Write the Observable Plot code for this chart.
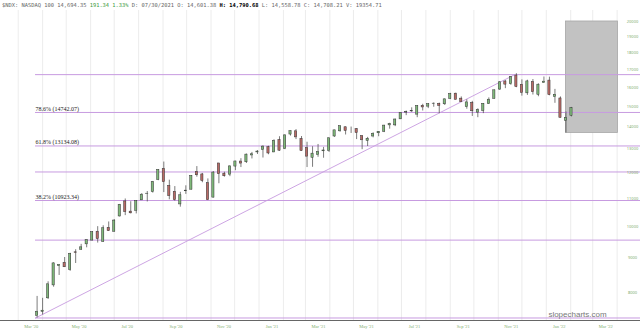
<!DOCTYPE html>
<html><head><meta charset="utf-8">
<script src="https://cdn.jsdelivr.net/npm/d3@7"></script>
<script src="https://cdn.jsdelivr.net/npm/@observablehq/plot@0.6"></script>
<style>
body{margin:0;background:#fff;width:640px;height:334px;overflow:hidden}
#hdr{height:10px;font:5.4px/10px "DejaVu Sans Mono",monospace;color:#666;padding-left:2px;white-space:pre;overflow:hidden}
#hdr .g{color:#3a9a3a}
#hdr .b{color:#000;font-weight:bold}
#chart svg{display:block}
</style></head><body>
<div id="hdr">$NDX: NASDAQ 100 14,694.35 <span class="g">191.34 1.33%</span> D: 07/30/2021 O: 14,601.38 <span class="b">H: 14,790.68</span> L: 14,558.78 C: 14,708.21 V: 19354.71</div>
<div id="chart"></div>
<script>
// Weekly candles (week start dates)
const weekStart = [
"2020-03-23","2020-03-30","2020-04-06","2020-04-13","2020-04-20","2020-04-27","2020-05-04","2020-05-11","2020-05-18","2020-05-25",
"2020-06-01","2020-06-08","2020-06-15","2020-06-22","2020-06-29","2020-07-06","2020-07-13","2020-07-20","2020-07-27","2020-08-03",
"2020-08-10","2020-08-17","2020-08-24","2020-08-31","2020-09-07","2020-09-14","2020-09-21","2020-09-28","2020-10-05","2020-10-12",
"2020-10-19","2020-10-26","2020-11-02","2020-11-09","2020-11-16","2020-11-23","2020-11-30","2020-12-07","2020-12-14","2020-12-21",
"2020-12-28",
"2021-01-04","2021-01-11","2021-01-18","2021-01-25","2021-02-01","2021-02-08","2021-02-15","2021-02-22","2021-03-01","2021-03-08",
"2021-03-15","2021-03-22","2021-03-29","2021-04-05","2021-04-12","2021-04-19","2021-04-26","2021-05-03","2021-05-10","2021-05-17",
"2021-05-24","2021-05-31","2021-06-07","2021-06-14","2021-06-21","2021-06-28","2021-07-05","2021-07-12","2021-07-19","2021-07-26",
"2021-08-02","2021-08-09","2021-08-16","2021-08-23","2021-08-30","2021-09-06","2021-09-13","2021-09-20","2021-09-27","2021-10-04",
"2021-10-11","2021-10-18","2021-10-25","2021-11-01","2021-11-08","2021-11-15","2021-11-22","2021-11-29","2021-12-06","2021-12-13",
"2021-12-20","2021-12-27",
"2022-01-03","2022-01-10","2022-01-17","2022-01-24","2022-01-31"];
const open = [
7400,7500,7850,8200,8750,8850,8640,9170,9250,9420,
9540,9830,9500,9960,9830,10350,10890,10520,10550,10930,
11170,11240,11710,12150,11480,11250,10780,11270,11330,12030,
11930,11580,11030,12380,11960,11920,12250,12460,12430,12720,
12850,
12960,13080,12850,13400,13000,13650,13800,13450,13040,12620,
12740,12900,12920,13560,13800,13990,13860,13900,13580,13360,
13560,13710,13780,14080,14080,14370,14700,14760,14600,15040,
15000,15140,15140,15120,15400,15670,15410,14970,15190,14700,
14780,15130,15400,15890,16330,16180,16660,16150,15690,16300,
15610,16250,
16380,15500,15420,14300,14540];
const high = [
7900,7850,8300,8850,8800,9010,9140,9250,9420,9560,
9830,10000,10030,10160,10240,10780,10980,10880,10920,11180,
11260,11650,12120,12439,11700,11450,11230,11480,11880,12250,
11970,11750,12040,12380,12020,12280,12470,12580,12780,12850,
12930,
13140,13120,13410,13550,13640,13810,13880,13560,13300,13100,
13200,13070,13490,13850,14050,14000,14000,13930,13600,13520,
13730,13790,14080,14180,14380,14680,14780,14940,15040,15120,
15140,15190,15180,15390,15690,15700,15500,15350,15270,14890,
15150,15450,15870,16330,16380,16600,16765,16420,16400,16440,
16200,16580,
16570,15900,15500,14730,14960];
const low = [
7345,7420,7820,8150,8480,8710,8600,8830,9230,9310,
9530,9460,9480,9840,9820,10330,10380,10440,10440,10930,
10870,11200,11680,11220,10950,10900,10680,11150,11320,11820,
11600,10920,11020,11560,11820,11840,12080,12210,12380,12570,
12760,
12610,12750,12840,12900,12970,13580,13420,12900,12210,12220,
12640,12600,12850,13520,13760,13630,13700,13420,12970,13110,
13500,13550,13740,13900,14020,14360,14550,14710,14450,14780,
14900,14970,14650,15060,15360,15340,15210,14870,14510,14450,
14650,15110,15390,15840,15940,16120,15990,15540,15580,15600,
15510,16250,
15560,15170,14440,13725,14490];
const close = [
7502,7528,8230,8833,8784,8718,9121,9152,9325,9555,
9814,9588,9946,9849,10208,10767,10504,10461,10905,11140,
11178,11625,12111,11622,11087,10938,11118,11294,11868,11896,
11665,10938,12006,11937,11856,12258,12464,12375,12756,12771,
12888,
13105,12804,13366,12925,13612,13807,13520,12909,12669,12797,
12867,12935,13480,13845,14041,13817,13860,13720,13388,13456,
13687,13773,14069,14143,14362,14679,14733,14785,15034,14959,
15127,15152,15034,15374,15652,15350,15224,15216,14767,14830,
15146,15355,15850,16285,16157,16573,16026,15712,16335,15750,
16155,16320,
15593,15611,14438,14440,14930];

// Fibonacci retracement
const fibLow = 7344.9, fibHigh = 16712.4;
const fibPct = [0, 23.6, 38.2, 50, 61.8, 78.6, 100];
const fibLabelPct = [38.2, 61.8, 78.6];
const fibLabelText = ["38.2% (10923.34)", "61.8% (13134.08)", "78.6% (14742.07)"];
const trendDates = ["2020-03-23", "2021-11-22"];

// projection box
const boxDates = ["2022-01-26", "2022-04-02"];
const boxValues = [13725, 20000];

// axes
const yTicks = [8000,9000,10000,11000,12000,13000,14000,15000,16000,17000,18000,19000,20000];
const xTickDates = ["2020-03-01","2020-05-01","2020-07-01","2020-09-01","2020-11-01","2021-01-01","2021-03-01",
  "2021-05-01","2021-07-01","2021-09-01","2021-11-01","2022-01-01","2022-03-01"];
const xTickLabels = ["Mar '20","May '20","Jul '20","Sep '20","Nov '20","Jan '21","Mar '21",
  "May '21","Jul '21","Sep '21","Nov '21","Jan '22","Mar '22"];

const DAY = 864e5;
const bars = weekStart.map((w, i) => {
  const s = new Date(w + "T00:00:00Z");
  return {s: new Date(+s + 0.6*DAY), e: new Date(+s + 3.4*DAY), m: new Date(+s + 2*DAY), o: open[i], h: high[i], l: low[i], c: close[i]};
});
const xStart = new Date(Date.UTC(2020,1,7,12));
const xEnd = new Date(Date.UTC(2022,3,30,17));
const firstDate = new Date(trendDates[0] + "T00:00:00Z");
const fibLevels = fibPct.map(p => fibLow + p/100*(fibHigh - fibLow));
const fibLabels = fibLabelPct.map((p, i) => ({v: fibLow + p/100*(fibHigh - fibLow), t: fibLabelText[i]}));
const trend = [{d: new Date(trendDates[0]+"T00:00:00Z"), v: fibLow}, {d: new Date(trendDates[1]+"T00:00:00Z"), v: fibHigh}];
const box = [{x1: new Date(boxDates[0]+"T00:00:00Z"), x2: new Date(boxDates[1]+"T00:00:00Z"), y1: boxValues[0], y2: boxValues[1]}];
const gridMonths = d3.utcMonth.range(xStart, xEnd);
const xt = xTickDates.map((d, i) => ({d: new Date(d+"T00:00:00Z"), t: xTickLabels[i]}));
const purple = "#c79be0";

const chart = Plot.plot({
  width: 640, height: 324,
  marginTop: 0, marginBottom: 14, marginLeft: 0, marginRight: 0,
  x: {type: "utc", domain: [xStart, xEnd], axis: null},
  y: {type: "log", domain: [7283, 20756], axis: null},
  color: {type: "identity"},
  marks: [
    Plot.ruleX(gridMonths, {stroke: "#e4e4e4", strokeWidth: 0.7}),
    Plot.rect(box, {x1: "x1", x2: "x2", y1: "y1", y2: "y2", fill: "#c2c2c2", stroke: "#a6a6a6", strokeWidth: 0.8}),
    Plot.ruleY(fibLevels, {y: d => d, x1: () => firstDate, x2: () => xEnd, stroke: purple, strokeWidth: 1}),
    Plot.line(trend, {x: "d", y: "v", stroke: purple, strokeWidth: 0.9}),
    Plot.ruleX(bars, {x: "m", y1: "l", y2: "h", stroke: "#444", strokeWidth: 0.7}),
    Plot.rect(bars, {x1: "s", x2: "e", y1: "o", y2: "c", fill: d => d.c >= d.o ? "#7fb97a" : "#b86a66", stroke: "#333", strokeWidth: 0.5}),
    Plot.text(fibLabels, {x: () => firstDate, y: "v", text: "t", textAnchor: "start", lineAnchor: "bottom", dy: -1.5,
      fontFamily: "Liberation Serif", fontSize: 6, fill: "#222"}),
    Plot.frame({anchor: "bottom", stroke: "#666", strokeWidth: 1}),
    Plot.text(yTicks, {y: d => d, text: d => String(d), frameAnchor: "right", dx: -8, textAnchor: "middle",
      fontSize: 4, fill: "#7fae6f"}),
    Plot.text(xt, {x: "d", text: "t", frameAnchor: "bottom", dy: 7, dx: 13, textAnchor: "middle",
      fontFamily: "Liberation Serif", fontSize: 4.5, fill: "#7fae6f"}),
    Plot.text(["slopecharts.com"], {frameAnchor: "bottom-right", dx: -63, dy: -4, textAnchor: "middle",
      fontFamily: "Liberation Sans", fontSize: 8, fill: "#777"})
  ]
});
document.getElementById("chart").appendChild(chart);
</script>
</body></html>
